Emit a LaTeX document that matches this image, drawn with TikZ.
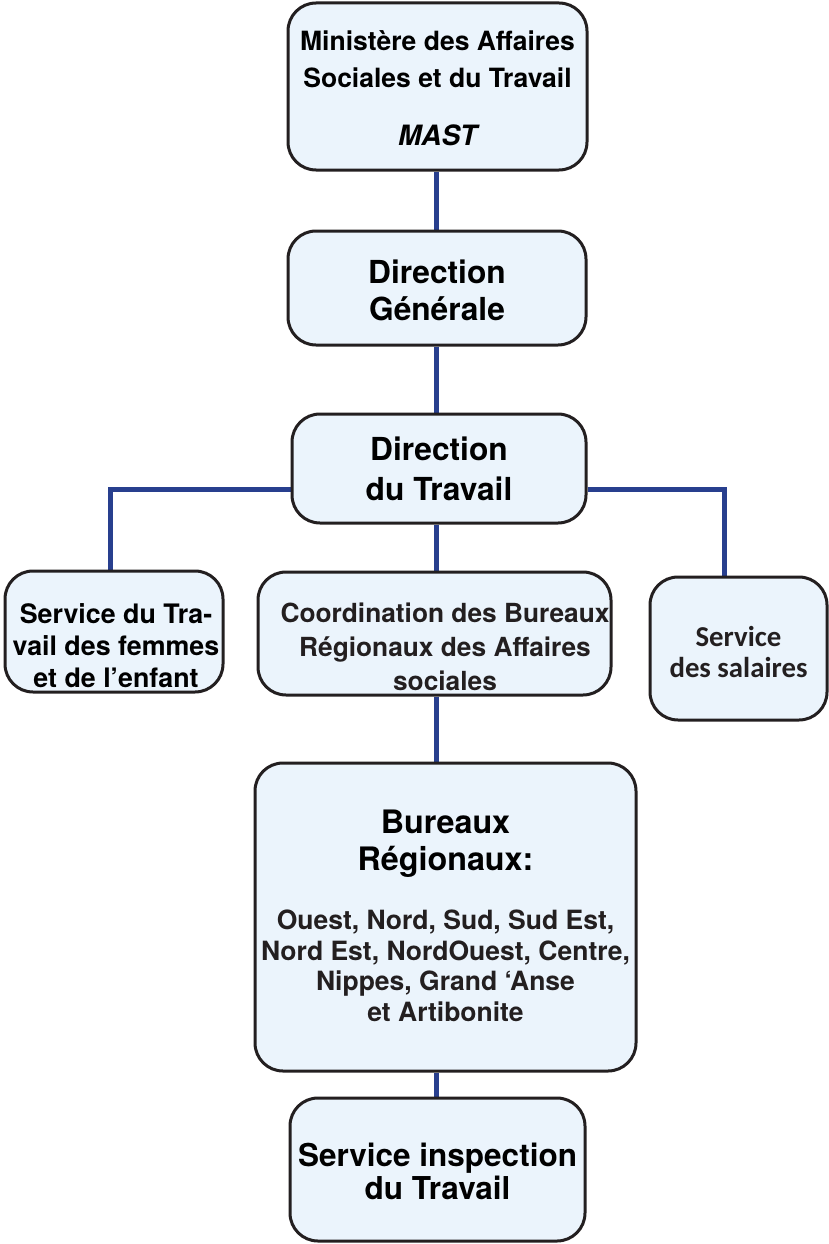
\documentclass[tikz,border=0pt]{standalone}
\usepackage{fontspec}
\setmainfont{TeX Gyre Heros}
\newfontfamily\carlito{Carlito}
\usetikzlibrary{backgrounds}
\definecolor{boxfill}{HTML}{EBF4FC}
\definecolor{boxline}{HTML}{231F20}
\definecolor{linkblue}{HTML}{283F8E}
\tikzset{
  orgbox/.style={draw=boxline, fill=boxfill, line width=3pt, rounded corners=28pt, inner sep=0pt},
  orgtxt/.style={align=center, inner sep=0pt, text=black},
  link/.style={draw=linkblue, line width=5pt}
}
\begin{document}
\begin{tikzpicture}[x=1pt, y=-1pt]
\useasboundingbox (0,0) rectangle (829,1244);
% boxes
\node[orgbox, minimum width=299pt, minimum height=167pt] (mast) at (437.5,86.5) {};
\node[orgbox, minimum width=298pt, minimum height=114pt] (dg) at (437,288) {};
\node[orgbox, minimum width=294pt, minimum height=109pt] (dt) at (439,468.5) {};
\node[orgbox, minimum width=218pt, minimum height=121pt] (fem) at (114,631.5) {};
\node[orgbox, minimum width=353pt, minimum height=123pt] (coord) at (434.5,633.5) {};
\node[orgbox, minimum width=177pt, minimum height=143pt] (sal) at (738.5,648.5) {};
\node[orgbox, minimum width=381pt, minimum height=308pt] (bur) at (445.5,917) {};
\node[orgbox, minimum width=295pt, minimum height=143pt] (insp) at (437.5,1169.5) {};
% texts
\node[orgtxt, font=\bfseries\fontsize{26.5}{37}\selectfont] (t1) at (437.5,59) {Ministère des Affaires\\Sociales et du Travail};
\node[orgtxt, font=\bfseries\itshape\fontsize{28}{34}\selectfont] (t1b) at (437.5,135) {MAST};
\node[orgtxt, font=\bfseries\fontsize{31.7}{37}\selectfont] (t2) at (437,290) {Direction\\Générale};
\node[orgtxt, font=\bfseries\fontsize{31.7}{40}\selectfont] (t3) at (439,469) {Direction\\du Travail};
\node[orgtxt, font=\bfseries\fontsize{26.8}{32}\selectfont] (t4) at (116,646) {Service du Tra-\\vail des femmes\\et de l’enfant};
\node[orgtxt, font=\bfseries\fontsize{26.3}{34}\selectfont, text=boxline] (t5) at (445,647) {Coordination des Bureaux\\Régionaux des Affaires\\sociales};
\node[orgtxt, font=\carlito\bfseries\fontsize{28.8}{31}\selectfont, text=boxline] (t6) at (738.5,652) {Service\\des salaires};
\node[orgtxt, font=\bfseries\fontsize{32.3}{37}\selectfont] (t7) at (445.5,844) {Bureaux\\Régionaux:};
\node[orgtxt, font=\bfseries\fontsize{26.5}{30.5}\selectfont, text=boxline] (t8) at (445.5,966) {Ouest, Nord, Sud, Sud Est,\\Nord Est, NordOuest, Centre,\\Nippes, Grand ‘Anse\\et Artibonite};
\node[orgtxt, font=\bfseries\fontsize{31.5}{33}\selectfont] (t9) at (437.5,1171) {Service inspection\\du Travail};
% connectors
\coordinate (spine) at (436,0);
\coordinate (lj) at (110,489);
\coordinate (rj) at (724,489);
\begin{scope}[on background layer]
\draw[link] (spine |- mast.south) -- (spine |- dg.north);
\draw[link] (spine |- dg.south) -- (spine |- dt.north);
\draw[link] (spine |- dt.south) -- (spine |- coord.north);
\draw[link] (spine |- coord.south) -- (spine |- bur.north);
\draw[link] (spine |- bur.south) -- (spine |- insp.north);
\draw[link] (dt.west |- lj) -- (lj) -- (lj |- fem.north);
\draw[link] (dt.east |- rj) -- (rj) -- (rj |- sal.north);
\end{scope}
\end{tikzpicture}
\end{document}
